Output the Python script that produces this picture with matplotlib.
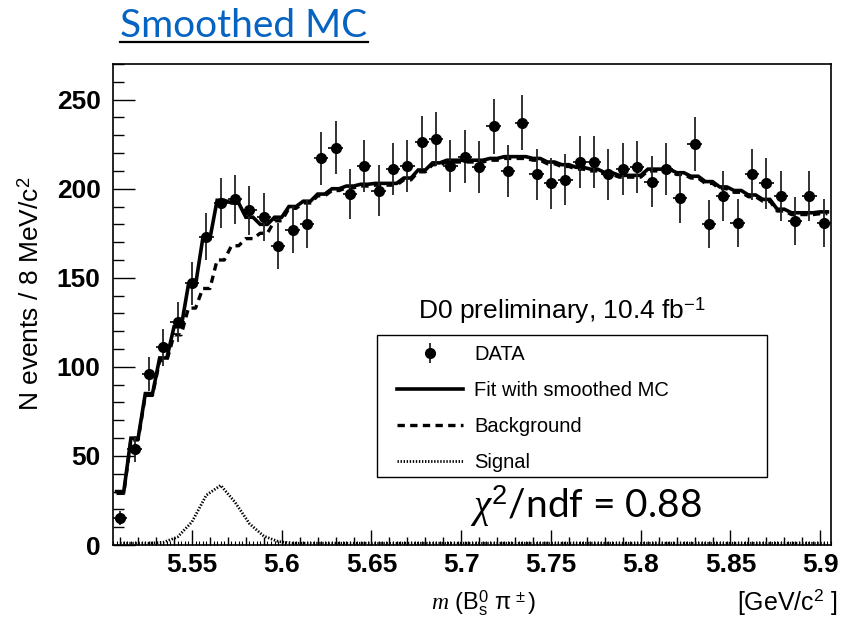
import numpy as np
import matplotlib
matplotlib.use("Agg")
import matplotlib.pyplot as plt
from matplotlib.lines import Line2D
from matplotlib.patches import Rectangle
from matplotlib.ticker import MultipleLocator

plt.rcParams["font.family"] = ["Liberation Sans", "DejaVu Sans"]
plt.rcParams["mathtext.fontset"] = "custom"
plt.rcParams["mathtext.rm"] = "Liberation Sans"
plt.rcParams["mathtext.sf"] = "Liberation Sans"
plt.rcParams["mathtext.it"] = "Liberation Serif:italic"
plt.rcParams["mathtext.bf"] = "Liberation Sans:bold"

# ---- data ----
x_min, x_max = 5.506, 5.906
bin_width = 0.008
counts = [15, 54, 96, 111, 125, 147, 173, 192, 194, 188,
          184, 168, 177, 180, 217, 223, 197, 213, 199, 211,
          213, 226, 228, 213, 218, 212, 235, 210, 237, 208,
          203, 205, 215, 215, 208, 211, 212, 204, 211, 195,
          225, 180, 196, 181, 208, 203, 196, 182, 196, 181]
background = [29, 59, 84, 103.5, 118, 133, 144, 160, 168, 172,
              175, 182, 189, 192, 196, 199, 200.5, 201.5, 202, 202,
              205, 209.5, 213.5, 215, 215, 215, 216, 217, 217, 216,
              214, 212.5, 211, 210, 208, 206.5, 206.5, 210, 210, 208,
              206, 203, 200, 198, 195.5, 193, 187.5, 185.5, 185.5, 186]
signal = [1, 1, 1, 1.5, 4.5, 13, 28, 33.5, 24, 12,
          5, 2, 1, 1, 1, 1, 1, 1, 1, 1,
          1, 1, 1, 1, 1, 1, 1, 1, 1, 1,
          1, 1, 1, 1, 1, 1, 1, 1, 1, 1,
          1, 1, 1, 1, 1, 1, 1, 1, 1, 1]
x_ticks = [5.55, 5.6, 5.65, 5.7, 5.75, 5.8, 5.85, 5.9]
x_tick_labels = ["5.55", "5.6", "5.65", "5.7", "5.75", "5.8", "5.85", "5.9"]
y_ticks = [0, 50, 100, 150, 200, 250]

counts = np.array(counts, dtype=float)
background = np.array(background, dtype=float)
signal = np.array(signal, dtype=float)
fit = background + signal
centers = x_min + bin_width * (np.arange(len(counts)) + 0.5)


def stepped(vals):
    xs = np.column_stack([centers - bin_width / 4, centers + bin_width / 4]).ravel()
    ys = np.repeat(vals, 2)
    return xs, ys


fig = plt.figure(figsize=(8.49, 6.18), dpi=100)
ax = fig.add_axes([0.1331, 0.1181, 0.8457, 0.7783])

# curves
xs, ys = stepped(fit)
ax.plot(xs, ys, color="black", lw=2.6, solid_joinstyle="miter", zorder=3)
xs, ys = stepped(background)
ax.plot(xs, ys, color="black", lw=2.4, ls=(0, (2.2, 1.6)), zorder=2)
ax.plot(centers, signal, color="black", lw=2.0, ls=(0, (0.5, 0.6)), zorder=2)

# data
ax.errorbar(centers, counts, xerr=bin_width / 2, fmt="none", ecolor="black",
            elinewidth=1.2, zorder=4)
data = ax.errorbar(centers, counts, yerr=np.sqrt(counts), fmt="o", color="black",
                   ms=7, ecolor="#222222", elinewidth=1.3, capsize=0, zorder=5)

ax.set_xlim(x_min, x_max)
ax.set_ylim(0, 270)

ax.set_xticks(x_ticks)
ax.set_xticklabels(x_tick_labels)
ax.xaxis.set_minor_locator(MultipleLocator(0.01))
ax.set_yticks(y_ticks)
ax.yaxis.set_minor_locator(MultipleLocator(10))
ax.tick_params(axis="both", which="both", direction="in", top=False, right=False,
               width=1.0, colors="black")
ax.tick_params(axis="x", which="major", length=11, pad=6)
ax.tick_params(axis="x", which="minor", length=6)
ax.tick_params(axis="y", which="major", length=16, pad=9)
ax.tick_params(axis="y", which="minor", length=8)
for lab in ax.get_xticklabels() + ax.get_yticklabels():
    lab.set_fontsize(19)
    lab.set_fontweight("bold")

sec = ax.secondary_xaxis("bottom")
sec.xaxis.set_major_locator(MultipleLocator(0.002))
sec.tick_params(direction="in", length=3, width=0.8, labelbottom=False)
sec.spines["bottom"].set_visible(False)

for sp in ax.spines.values():
    sp.set_linewidth(1.2)

# legend
h_fit = Line2D([], [], color="black", lw=2.6)
h_bkg = Line2D([], [], color="black", lw=2.4, ls=(0, (2.2, 1.6)))
h_sig = Line2D([], [], color="black", lw=2.0, ls=(0, (0.5, 0.6)))
ax.legend([data, h_fit, h_bkg, h_sig],
          ["DATA", "Fit with smoothed MC", "Background", "Signal"],
          loc="upper left", bbox_to_anchor=(0.384, 0.432), frameon=False,
          fontsize=14.5, handlelength=3.3, handletextpad=0.55, labelspacing=0.84,
          borderaxespad=0)
ax.add_patch(Rectangle((0.368, 0.141), 0.543, 0.296, transform=ax.transAxes,
                       fill=False, edgecolor="black", lw=1.0, zorder=6))

# texts
fig.text(0.036, 0.524, r"N events / 8 MeV/c$^2$", rotation=90, ha="center",
         va="center", fontsize=19)
fig.text(0.570, 0.024, r"$m$ (B$^{0}_{\mathrm{s}}$ $\mathrm{\pi}^{\,\pm}$)", ha="center",
         va="center", fontsize=17)
fig.text(0.987, 0.026, r"[GeV/c$^2$ ]", ha="right", va="center", fontsize=18)
fig.text(0.492, 0.498, r"D0 preliminary, 10.4 fb$^{-1}$", ha="left", va="center",
         fontsize=19)
fig.text(0.690, 0.162, r"$\chi^2$/ndf = 0.88", ha="center", va="baseline",
         fontsize=28, family=["Lato", "DejaVu Sans"])
fig.text(0.1413, 0.940, "Smoothed MC", ha="left", va="baseline", fontsize=28,
         color="#0563C1", family=["Lato", "DejaVu Sans"])
fig.add_artist(Line2D([120 / 849, 368 / 849], [1 - 42 / 618, 1 - 42 / 618],
                      transform=fig.transFigure, color="black", lw=1.6))

fig.savefig("out.png", dpi=100)
